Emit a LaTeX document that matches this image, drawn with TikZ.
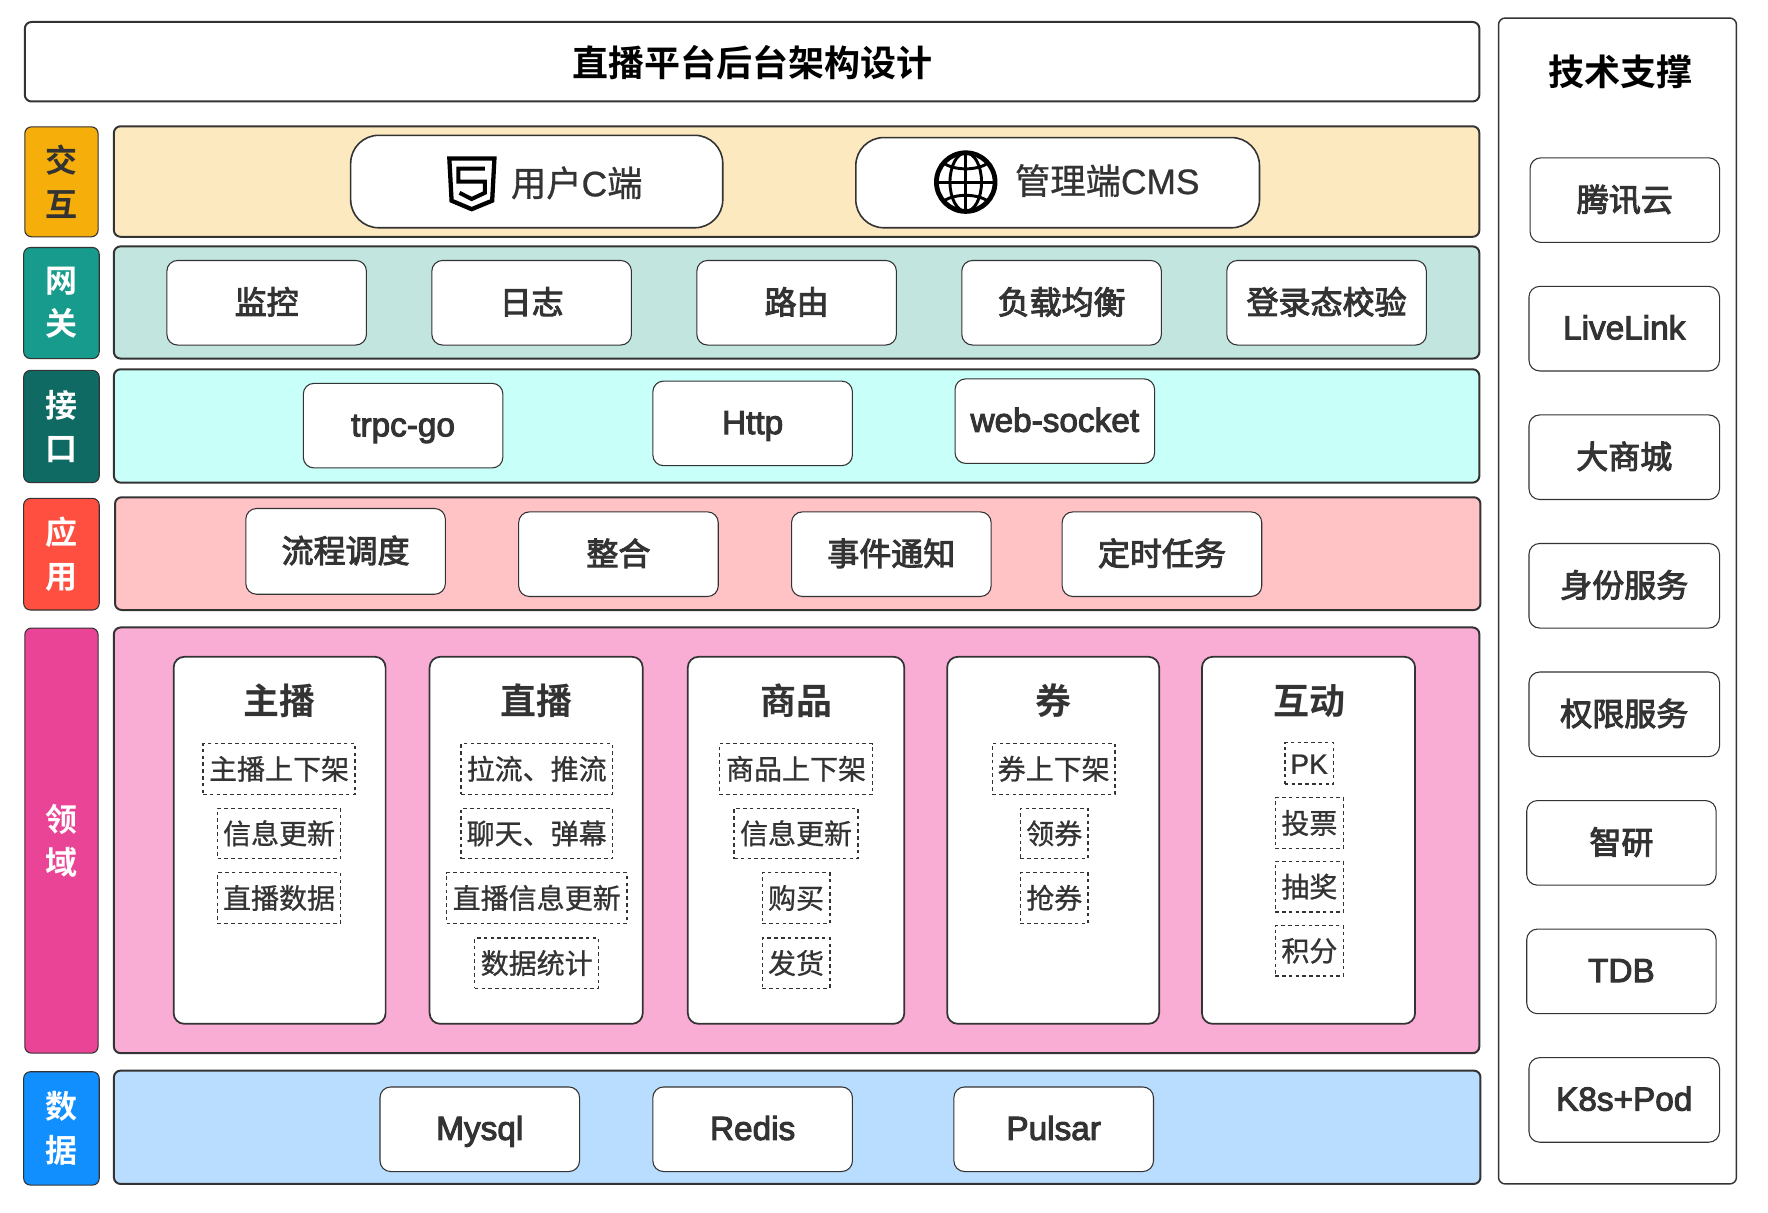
\documentclass[tikz,border=0pt]{standalone}
\usepackage{fontspec}
\setmainfont{Noto Sans CJK SC}
\newfontfamily\cjkr[FakeBold=0.8]{Noto Sans CJK SC}
\newfontfamily\cjkm[FakeBold=3]{Noto Sans CJK SC}
\newfontfamily\cjkb[BoldFont={Noto Sans CJK SC Bold}]{Noto Sans CJK SC}
\newfontfamily\latr[FakeBold=0.8]{Liberation Sans}
\newfontfamily\latm[FakeBold=3]{Liberation Sans}
\definecolor{ink}{HTML}{333333}
\definecolor{jiaoS}{HTML}{F5AE0A}\definecolor{jiaoB}{HTML}{FCE9C0}
\definecolor{wangS}{HTML}{169B8C}\definecolor{wangB}{HTML}{C2E5DF}
\definecolor{jieS}{HTML}{0E6A63}\definecolor{jieB}{HTML}{C8FFF9}
\definecolor{yingS}{HTML}{FF4F40}\definecolor{yingB}{HTML}{FFC2C5}
\definecolor{lingS}{HTML}{E94496}\definecolor{lingB}{HTML}{F9ADD4}
\definecolor{shuS}{HTML}{118FFF}\definecolor{shuB}{HTML}{B8DDFF}
\tikzset{
  base/.style={rectangle,inner sep=0pt,outer sep=0pt,draw=ink,text=ink},
  band/.style={base,line width=1.5pt,rounded corners=5pt},
  side/.style={base,line width=0.8pt,rounded corners=5pt,align=center,text=white,
    font=\fontsize{24}{32.5}\selectfont\cjkb\bfseries},
  card/.style={base,fill=white,line width=0.8pt,rounded corners=8pt,
    text height=20.4pt,text depth=3.4pt,font=\fontsize{24}{28}\selectfont\cjkm},
  lcard/.style={card,text depth=4.4pt,font=\fontsize{25}{28}\selectfont\latm},
  pill/.style={base,fill=white,line width=1.2pt,rounded corners=21pt},
  col/.style={base,fill=white,line width=1.3pt,rounded corners=8pt},
  dbox/.style={base,line width=1.1pt,dash pattern=on 2.7pt off 2.4pt,
    text height=17.85pt,text depth=2.1pt,font=\fontsize{21}{24}\selectfont\cjkr},
  headtext/.style={inner sep=0pt,text=ink,text height=23pt,text depth=2.7pt,
    font=\fontsize{27}{30}\selectfont\cjkb\bfseries},
  blacktext/.style={headtext,text=black},
  plainL/.style={inner sep=0pt,text=ink,text height=21.25pt,text depth=2.5pt,
    font=\fontsize{26.5}{28}\selectfont\cjkr},
}
\newcommand{\bx}[7][]{%
  \pgfmathsetmacro{\cxx}{(#3+#5)/2}\pgfmathsetmacro{\cyy}{(#4+#6)/2}%
  \pgfmathsetmacro{\wpt}{(#5-#3)*0.8457}\pgfmathsetmacro{\hpt}{(#6-#4)*0.8457}%
  \node[#1,minimum width=\wpt pt,minimum height=\hpt pt] (#2) at (\cxx,\cyy) {#7};}
\begin{document}
\begin{tikzpicture}[x=0.8457pt,y=-0.8457pt]
\useasboundingbox (0,0) rectangle (1568,1074.9);
% title + tech panel
\bx[band]{title}{22}{19.5}{1312}{90}{}
\node[blacktext] (titletext) at (667,56) {直播平台后台架构设计};
\bx[base,line width=1.1pt,rounded corners=5pt]{tech}{1329}{16}{1540}{1050}{}
\node[blacktext] (techtext) at (1437,64) {技术支撑};
% bands
\bx[band,fill=jiaoB]{bjiao}{101}{112}{1312}{210}{}
\bx[band,fill=wangB]{bwang}{101}{218.5}{1312}{318}{}
\bx[band,fill=jieB]{bjie}{101}{327.5}{1312}{428}{}
\bx[band,fill=yingB]{bying}{102}{441}{1313}{541}{}
\bx[band,fill=lingB]{bling}{101}{556.5}{1312}{934}{}
\bx[band,fill=shuB]{bshu}{101}{949.5}{1313}{1050}{}
% side labels
\bx[side,fill=jiaoS,text=ink]{sjiao}{22}{112.5}{87}{210}{交\\互}
\bx[side,fill=wangS]{swang}{21}{219.5}{88}{318}{网\\关}
\bx[side,fill=jieS]{sjie}{21}{328.5}{88}{428}{接\\口}
\bx[side,fill=yingS]{sying}{21}{442}{88}{541}{应\\用}
\bx[side,fill=lingS]{sling}{22}{557}{87}{934}{领\\域}
\bx[side,fill=shuS]{sshu}{21}{950.5}{88}{1051}{数\\据}
% clients
\bx[pill]{cuser}{311}{120}{641}{202}{}
\bx[pill]{cadmin}{759}{122}{1117}{202}{}
\node[plainL] (cusert) at (511.5,163) {用户{\latr C}端};
\node[plainL] (cadmint) at (982,161) {管理端{\latr CMS}};
% html5 icon
\draw[black,line width=3.2pt,miter limit=10,line join=miter]
  (398.5,140.5) -- (438.5,140.5) -- (436.5,178) -- (418.3,185.5) -- (400.5,178) -- cycle;
\draw[black,line width=3pt,line join=miter]
  (430,149.5) -- (406.5,149.5) -- (406.5,161) -- (430,161) -- (430,171) -- (418.3,176.5) -- (407.5,171);
% globe icon
\begin{scope}[shift={(856.5,161.5)},black]
  \draw[line width=3.6pt] (0,0) circle (26);
  \draw[line width=2.2pt] (0,0) ellipse (14 and 26);
  \draw[line width=2.2pt] (0,-26) -- (0,26) (-26,0) -- (26,0);
  \draw[line width=2.2pt] (-20,-17) .. controls (-10,-10) and (10,-10) .. (20,-17);
  \draw[line width=2.2pt] (-20,17) .. controls (-10,10) and (10,10) .. (20,17);
\end{scope}
% gateway
\bx[card]{g1}{148}{231}{325}{306}{监控}
\bx[card]{g2}{383}{231}{560}{306}{日志}
\bx[card]{g3}{618}{231}{795}{306}{路由}
\bx[card]{g4}{853}{231}{1030}{306}{负载均衡}
\bx[card]{g5}{1088}{231}{1265}{306}{登录态校验}
% interfaces
\bx[lcard]{i1}{269}{340}{446}{415}{trpc-go}
\bx[lcard]{i2}{579}{338}{756}{413}{Http}
\bx[lcard]{i3}{847}{336}{1024}{411}{web-socket}
% application
\bx[card]{a1}{218}{451}{395}{527}{流程调度}
\bx[card]{a2}{460}{454}{637}{529}{整合}
\bx[card]{a3}{702}{454}{879}{529}{事件通知}
\bx[card]{a4}{942}{454}{1119}{529}{定时任务}
% data
\bx[lcard]{d1}{337}{964}{514}{1039}{Mysql}
\bx[lcard]{d2}{579}{964}{756}{1039}{Redis}
\bx[lcard]{d3}{846}{964}{1023}{1039}{Pulsar}
% tech items
\bx[card]{t1}{1357}{140}{1525}{215}{腾讯云}
\bx[lcard]{t2}{1356}{254}{1525}{329}{LiveLink}
\bx[card]{t3}{1356}{368}{1525}{443}{大商城}
\bx[card]{t4}{1356}{482}{1525}{557}{身份服务}
\bx[card]{t5}{1356}{596}{1525}{671}{权限服务}
\bx[card]{t6}{1354}{710}{1522}{785}{智研}
\bx[lcard]{t7}{1354}{824}{1522}{899}{TDB}
\bx[lcard]{t8}{1356}{938}{1525}{1013}{K8s+Pod}
% domain columns
\bx[col]{c1}{154}{582.5}{342}{908}{}
\bx[col]{c2}{381}{582.5}{570}{908}{}
\bx[col]{c3}{610}{582.5}{802}{908}{}
\bx[col]{c4}{840}{582.5}{1028}{908}{}
\bx[col]{c5}{1066}{582.5}{1255}{908}{}
\node[headtext] (c1t) at (248,622) {主播};
\node[headtext] (c2t) at (476,622) {直播};
\node[headtext] (c3t) at (706,622) {商品};
\node[headtext] (c4t) at (934,622) {券};
\node[headtext] (c5t) at (1161,622) {互动};
% domain items
\bx[dbox]{e11}{180}{659.5}{315}{704.5}{主播上下架}
\bx[dbox]{e12}{193}{717}{302}{761.5}{信息更新}
\bx[dbox]{e13}{193}{774}{302}{819}{直播数据}
\bx[dbox]{e21}{409}{659.5}{543}{704.5}{拉流、推流}
\bx[dbox]{e22}{409}{717}{543}{761.5}{聊天、弹幕}
\bx[dbox]{e23}{396}{774}{556}{819}{直播信息更新}
\bx[dbox]{e24}{421}{832}{531}{876.5}{数据统计}
\bx[dbox]{e31}{638}{659.5}{774}{704.5}{商品上下架}
\bx[dbox]{e32}{651}{717}{761}{761.5}{信息更新}
\bx[dbox]{e33}{676}{774}{736}{819}{购买}
\bx[dbox]{e34}{676}{832}{736}{876.5}{发货}
\bx[dbox]{e41}{880}{659.5}{989}{704.5}{券上下架}
\bx[dbox]{e42}{905}{717}{965}{761.5}{领券}
\bx[dbox]{e43}{905}{774}{965}{819}{抢券}
\bx[dbox,font=\fontsize{21}{24}\selectfont\latr]{e51}{1139.5}{658.5}{1182.5}{695.5}{PK}
\bx[dbox]{e52}{1131}{707.5}{1191.5}{752.5}{投票}
\bx[dbox]{e53}{1131}{764}{1191.5}{809}{抽奖}
\bx[dbox]{e54}{1131}{821}{1191.5}{865.5}{积分}
\end{tikzpicture}
\end{document}
